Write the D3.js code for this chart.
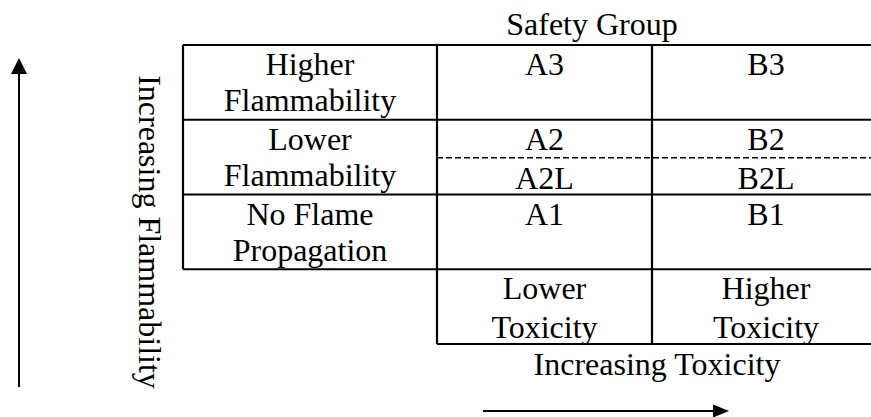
<!DOCTYPE html>
<html>
<head>
<meta charset="utf-8">
<script src="https://cdn.jsdelivr.net/npm/d3@7"></script>
<style>
  html, body { margin: 0; padding: 0; background: #fff; }
</style>
</head>
<body>
<div id="chart"></div>
<script>
// rows from top (highest flammability) to bottom
const rows = ["3", "2", "1", "tox"];
const rowLabels = [["Higher", "Flammability"], ["Lower", "Flammability"], ["No Flame", "Propagation"], []];
const colA = [["A3"], ["A2", "A2L"], ["A1"], ["Lower", "Toxicity"]];
const colB = [["B3"], ["B2", "B2L"], ["B1"], ["Higher", "Toxicity"]];
const columns = ["label", "A", "B"];

const width = 871, height = 417;
const fontSize = 32;
const serif = "'Liberation Serif', 'Times New Roman', 'DejaVu Serif', serif";

const svg = d3.select("#chart")
    .append("svg")
    .attr("width", width)
    .attr("height", height);

const y = d3.scaleBand().domain(rows).range([45, 344]);
const xLeft = d3.scaleOrdinal().domain(columns).range([183, 437, 652]);
const xRight = d3.scaleOrdinal().domain(columns).range([437, 652, 880]);
const xMid = c => (xLeft(c) + xRight(c)) / 2;

const lines = svg.append("g")
    .attr("stroke", "#000")
    .attr("stroke-width", 2.2);

// horizontal rules
rows.forEach(r => {
    lines.append("line")
        .attr("x1", xLeft("label")).attr("x2", width)
        .attr("y1", y(r)).attr("y2", y(r));
});
lines.append("line")
    .attr("x1", xLeft("A")).attr("x2", width)
    .attr("y1", y("tox") + y.bandwidth()).attr("y2", y("tox") + y.bandwidth());

// vertical rules
lines.append("line")
    .attr("x1", xLeft("label")).attr("x2", xLeft("label"))
    .attr("y1", y("3")).attr("y2", y("tox"));
["A", "B"].forEach(c => {
    lines.append("line")
        .attr("x1", xLeft(c)).attr("x2", xLeft(c))
        .attr("y1", y("3")).attr("y2", y("tox") + y.bandwidth());
});

// dashed split between A2 and A2L
svg.append("line")
    .attr("x1", xLeft("A")).attr("x2", width)
    .attr("y1", y("2") + 38).attr("y2", y("2") + 38)
    .attr("stroke", "#000")
    .attr("stroke-width", 1.4)
    .attr("stroke-dasharray", "6,3");

function addText(sel) {
    return sel.append("text")
        .attr("font-family", serif)
        .attr("font-size", fontSize)
        .attr("fill", "#000")
        .attr("text-anchor", "middle");
}

// cell text
function cellText(col, data, offsets) {
    rows.forEach((r, i) => {
        data[i].forEach((t, j) => {
            addText(svg)
                .attr("x", xMid(col))
                .attr("y", y(r) + offsets[j])
                .text(t);
        });
    });
}
cellText("label", rowLabels, [30, 66]);
cellText("A", colA, [30, 69]);
cellText("B", colB, [30, 69]);

// titles
addText(svg)
    .attr("x", 592).attr("y", 35)
    .text("Safety Group");

addText(svg)
    .attr("x", 657).attr("y", 375)
    .text("Increasing Toxicity");

addText(svg)
    .attr("transform", "translate(139,232) rotate(90)")
    .text("Increasing Flammability");

// arrows
svg.append("line")
    .attr("x1", 19).attr("x2", 19)
    .attr("y1", 387).attr("y2", 72)
    .attr("stroke", "#000").attr("stroke-width", 2);
svg.append("path")
    .attr("d", "M19,58 L11,74 L27,74 Z")
    .attr("fill", "#000");

svg.append("line")
    .attr("x1", 483).attr("x2", 715)
    .attr("y1", 411).attr("y2", 411)
    .attr("stroke", "#000").attr("stroke-width", 2);
svg.append("path")
    .attr("d", "M729,411 L713,404.5 L713,417.5 Z")
    .attr("fill", "#000");
</script>
</body>
</html>
